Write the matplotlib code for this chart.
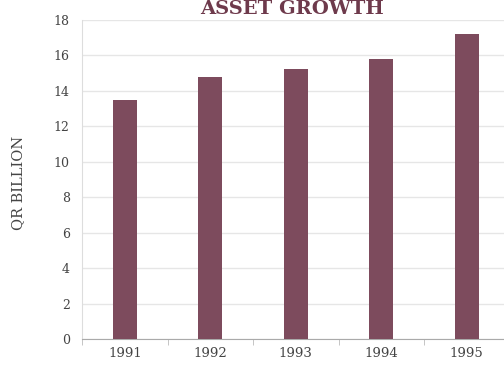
import matplotlib
matplotlib.use('Agg')
import matplotlib.pyplot as plt

years = ['1991', '1992', '1993', '1994', '1995']
assets = [13.5, 14.8, 15.25, 15.8, 17.2]
y_ticks = [0, 2, 4, 6, 8, 10, 12, 14, 16, 18]

plt.rcParams['font.family'] = ['DejaVu Serif']

fig = plt.figure(figsize=(5.04, 3.67), dpi=100)
ax = fig.add_axes([0.163, 0.076, 0.848, 0.87])

x = range(len(years))
ax.bar(x, assets, width=0.28, color='#7d4b5d', zorder=3)

ax.set_xlim(-0.5, len(years) - 0.5)
ax.set_ylim(0, 18)
ax.set_yticks(y_ticks)
ax.set_yticklabels([str(t) for t in y_ticks], fontsize=9, color='#444444')
ax.set_xticks(list(x))
ax.set_xticklabels(years, fontsize=9.5, color='#444444')
ax.tick_params(axis='x', length=0, pad=6)
ax.tick_params(axis='y', length=0, pad=9)

# category separators on the bottom axis
ax.set_xticks([i - 0.5 for i in range(len(years) + 1)], minor=True)
ax.tick_params(axis='x', which='minor', length=4, color='#bbbbbb', direction='out')

ax.grid(axis='y', color='#e6e6e6', linewidth=1, zorder=0)
for side in ['top', 'right']:
    ax.spines[side].set_visible(False)
ax.spines['bottom'].set_color('#aaaaaa')
ax.spines['left'].set_color('#dddddd')

ax.set_ylabel('QR BILLION', fontsize=10.5, color='#444444')
ax.yaxis.set_label_coords(-0.133, 0.49)

fig.text(0.58, 0.999, 'ASSET GROWTH', ha='center', va='top',
         fontsize=14, fontweight='bold', color='#6e3a4c')

fig.savefig('out.png', dpi=100)
